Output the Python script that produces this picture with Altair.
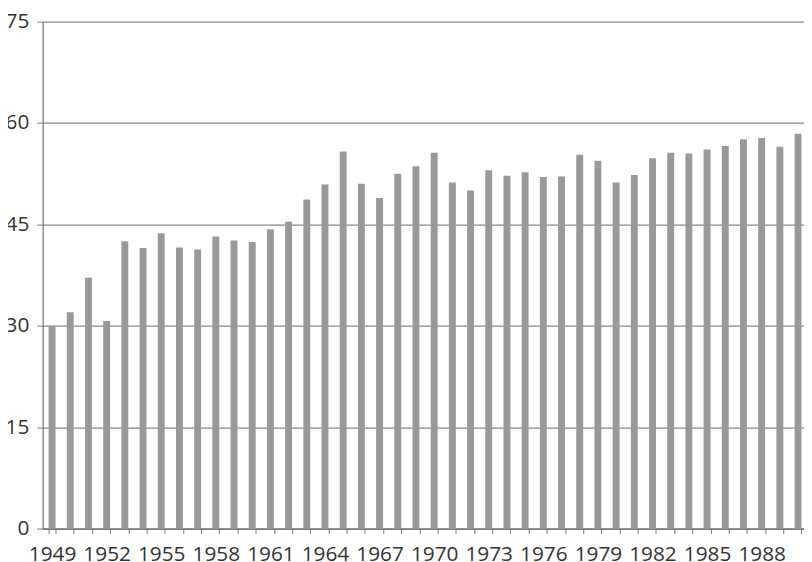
import altair as alt
import pandas as pd

years = list(range(1949, 1991))
values = [30.0, 32.0, 37.1, 30.7, 42.5, 41.5, 43.7, 41.6, 41.3, 43.2,
          42.6, 42.4, 44.3, 45.4, 48.7, 50.9, 55.8, 51.0, 48.9, 52.5,
          53.6, 55.6, 51.2, 50.0, 53.0, 52.2, 52.7, 52.0, 52.1, 55.3,
          54.4, 51.2, 52.3, 54.8, 55.6, 55.5, 56.1, 56.6, 57.6, 57.8,
          56.5, 58.4]
y_ticks = [0, 15, 30, 45, 60, 75]

df = pd.DataFrame({"year": [str(y) for y in years], "value": values})

FONT = "Open Sans"
FS = 21

chart = alt.Chart(df).mark_bar(color="#999999").encode(
    x=alt.X("year:O", sort=None,
            scale=alt.Scale(paddingInner=0.62, paddingOuter=0.327, range=[0, 772.5]),
            axis=alt.Axis(title=None, labelAngle=0, tickBand="extent",
                          labelExpr="(toNumber(datum.value) - 1949) % 3 == 0 ? datum.value : ''",
                          domainColor="#555555", tickColor="#777777", tickSize=5,
                          labelPadding=10, labelColor="#333333", grid=False,
                          labelFontSize=FS, labelFont=FONT, labelOverlap=False)),
    y=alt.Y("value:Q", scale=alt.Scale(domain=[0, 75], nice=False),
            axis=alt.Axis(title=None, values=y_ticks, domainColor="#555555",
                          tickColor="#777777", tickSize=6, labelPadding=8,
                          labelColor="#333333", labelFontSize=FS, labelFont=FONT,
                          grid=True, gridColor="#888888", gridWidth=1.2)),
).properties(
    width=769, height=512,
    autosize=alt.AutoSizeParams(type="none"),
    padding={"left": 35, "top": 11, "right": 0, "bottom": 30},
).configure_view(stroke=None)

chart.save("out.html", embed_options={"renderer": "svg", "actions": False})
